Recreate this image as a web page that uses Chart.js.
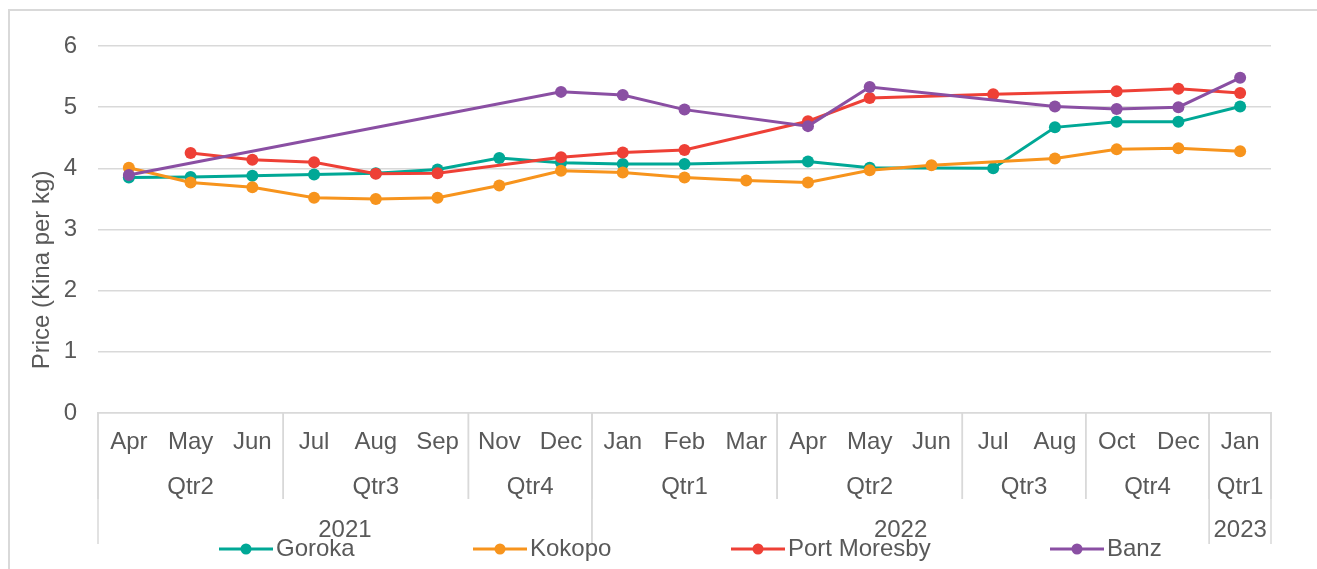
<!DOCTYPE html>
<html lang="en">
<head>
    <meta charset="UTF-8">
    <title>Price (Kina per kg)</title>
    <style>
        html, body { margin: 0; padding: 0; background: #fff; }
        #wrap { position: relative; width: 1317px; height: 569px; overflow: hidden; }
        #frame {
            position: absolute; left: 8px; top: 9px; width: 1400px; height: 600px;
            border-left: 2px solid #d9d9d9; border-top: 2px solid #d9d9d9;
        }
        #priceChart { position: absolute; left: 0; top: 0; }
    </style>
    <script src="https://cdn.jsdelivr.net/npm/chart.js"></script>
</head>
<body>
<div id="wrap">
    <div id="frame"></div>
    <canvas id="priceChart" width="1317" height="569"></canvas>
</div>
<script>
    // categories
    const months   = ['Apr','May','Jun','Jul','Aug','Sep','Nov','Dec','Jan','Feb','Mar','Apr','May','Jun','Jul','Aug','Oct','Dec','Jan'];
    const quarters = ['Qtr2','Qtr2','Qtr2','Qtr3','Qtr3','Qtr3','Qtr4','Qtr4','Qtr1','Qtr1','Qtr1','Qtr2','Qtr2','Qtr2','Qtr3','Qtr3','Qtr4','Qtr4','Qtr1'];
    const years    = ['2021','2021','2021','2021','2021','2021','2021','2021','2022','2022','2022','2022','2022','2022','2022','2022','2022','2022','2023'];

    // price series (Kina per kg), null = no survey that month
    const goroka      = [3.85, 3.86, 3.88, 3.90, 3.92, 3.98, 4.17, 4.09, 4.07, 4.07, null, 4.11, 4.01, null, 4.00, 4.67, 4.76, 4.76, 5.01];
    const kokopo      = [4.01, 3.77, 3.69, 3.52, 3.50, 3.52, 3.72, 3.96, 3.93, 3.85, 3.80, 3.77, 3.97, 4.05, null, 4.16, 4.31, 4.33, 4.28];
    const portMoresby = [null, 4.25, 4.14, 4.10, 3.91, 3.92, null, 4.18, 4.26, 4.30, null, 4.77, 5.15, null, 5.21, null, 5.26, 5.30, 5.23];
    const banz        = [3.89, null, null, null, null, null, null, 5.25, 5.20, 4.96, null, 4.69, 5.33, null, null, 5.01, 4.97, 5.00, 5.48];

    const yTicks = [0, 1, 2, 3, 4, 5, 6];

    const textColor = '#595959';
    const gridColor = '#d9d9d9';
    const font = 'Liberation Sans, Arial, sans-serif';

    function series(label, data, color, order) {
        return {
            label: label,
            data: data,
            borderColor: color,
            backgroundColor: color,
            borderWidth: 3,
            pointRadius: 6,
            pointHoverRadius: 6,
            pointBorderWidth: 0,
            spanGaps: true,
            tension: 0,
            order: order
        };
    }

    // group consecutive categories that share a key
    function groups(keyFn) {
        const out = [];
        for (let i = 0; i < months.length; i++) {
            const k = keyFn(i);
            if (out.length && out[out.length - 1].key === k) {
                out[out.length - 1].to = i;
            } else {
                out.push({ key: k, from: i, to: i });
            }
        }
        return out;
    }

    const groupAxis = {
        id: 'groupAxis',
        afterDraw(chart) {
            const { ctx, chartArea } = chart;
            const x = chart.scales.x;
            const bottom = chartArea.bottom;
            const edge = i => i <= 0 ? chartArea.left
                : i >= months.length ? chartArea.right
                : (x.getPixelForValue(i - 1) + x.getPixelForValue(i)) / 2;

            ctx.save();
            ctx.strokeStyle = gridColor;
            ctx.lineWidth = 1.5;
            ctx.fillStyle = textColor;
            ctx.font = '24px ' + font;
            ctx.textAlign = 'center';
            ctx.textBaseline = 'middle';

            // quarter row
            groups(i => years[i] + quarters[i]).forEach(g => {
                const l = edge(g.from), r = edge(g.to + 1);
                ctx.fillText(quarters[g.from], (l + r) / 2, bottom + 74);
                ctx.beginPath();
                ctx.moveTo(l, bottom); ctx.lineTo(l, bottom + 86);
                ctx.moveTo(r, bottom); ctx.lineTo(r, bottom + 86);
                ctx.stroke();
            });

            // year row
            groups(i => years[i]).forEach(g => {
                const l = edge(g.from), r = edge(g.to + 1);
                ctx.fillText(years[g.from], (l + r) / 2, bottom + 117);
                ctx.beginPath();
                ctx.moveTo(l, bottom); ctx.lineTo(l, bottom + 131);
                ctx.moveTo(r, bottom); ctx.lineTo(r, bottom + 131);
                ctx.stroke();
            });

            // y axis title
            ctx.save();
            ctx.translate(42, bottom - 143);
            ctx.rotate(-Math.PI / 2);
            ctx.fillText('Price (Kina per kg)', 0, 0);
            ctx.restore();

            // legend: line with a dot, then the name
            const legendX = [219, 473, 731, 1050];
            const legendY = bottom + 136;
            chart.data.datasets.forEach((ds, i) => {
                const x0 = legendX[i];
                ctx.strokeStyle = ds.borderColor;
                ctx.fillStyle = ds.borderColor;
                ctx.lineWidth = 3;
                ctx.beginPath();
                ctx.moveTo(x0, legendY); ctx.lineTo(x0 + 54, legendY);
                ctx.stroke();
                ctx.beginPath();
                ctx.arc(x0 + 27, legendY, 5.5, 0, Math.PI * 2);
                ctx.fill();
                ctx.fillStyle = textColor;
                ctx.textAlign = 'left';
                ctx.fillText(ds.label, x0 + 57, legendY);
            });
            ctx.restore();
        }
    };

    new Chart(document.getElementById('priceChart').getContext('2d'), {
        type: 'line',
        data: {
            labels: months,
            datasets: [
                series('Goroka', goroka, '#00a896', 3),
                series('Kokopo', kokopo, '#f7941d', 2),
                series('Port Moresby', portMoresby, '#ee4036', 1),
                series('Banz', banz, '#8a4fa3', 0)
            ]
        },
        options: {
            responsive: false,
            animation: false,
            layout: { padding: { top: 46, right: 46, left: 0, bottom: 0 } },
            plugins: {
                legend: { display: false },
                tooltip: { enabled: false }
            },
            scales: {
                x: {
                    offset: true,
                    grid: { display: false, drawTicks: false, offset: true },
                    border: { display: true, color: gridColor, width: 1.5 },
                    ticks: {
                        autoSkip: false, maxRotation: 0, padding: 15,
                        color: textColor, font: { family: font, size: 24 }
                    },
                    afterFit(scale) { scale.height = 156; }
                },
                y: {
                    min: 0, max: 6,
                    afterBuildTicks(scale) { scale.ticks = yTicks.map(v => ({ value: v })); },
                    grid: { color: gridColor, lineWidth: 1.5, drawTicks: false },
                    border: { display: false },
                    ticks: {
                        padding: 21, color: textColor,
                        font: { family: font, size: 24 }
                    },
                    afterFit(scale) { scale.width = 98; }
                }
            }
        },
        plugins: [groupAxis]
    });
</script>
</body>
</html>
